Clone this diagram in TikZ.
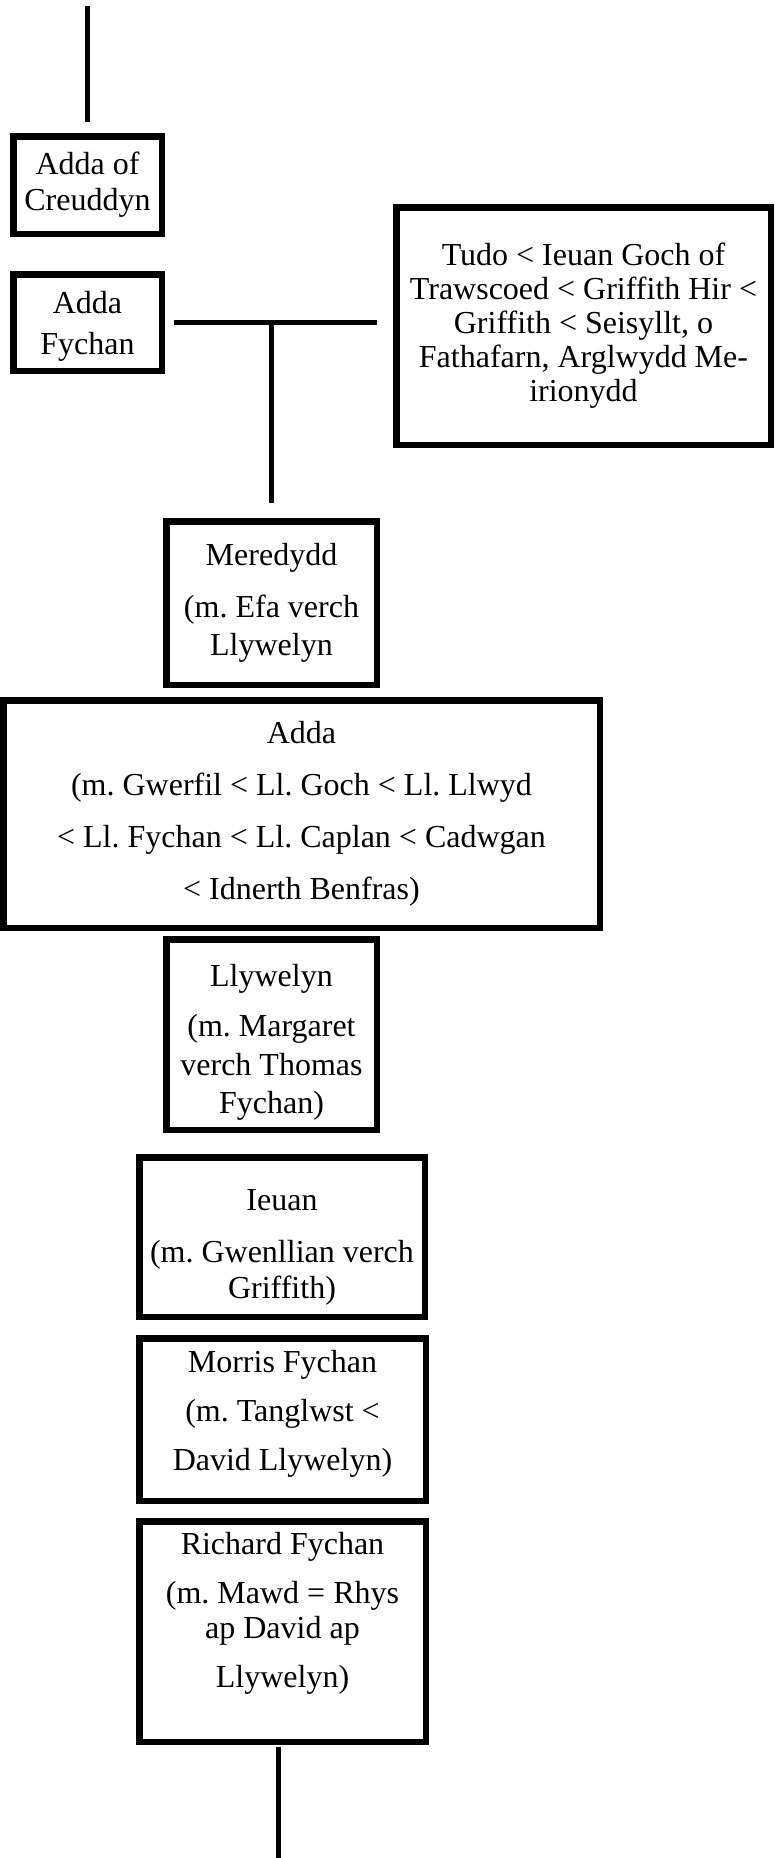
\documentclass[tikz,border=0pt]{standalone}
\usepackage{fontspec}
\setmainfont{Liberation Serif}
\usetikzlibrary{calc}
\newcommand{\lift}[1]{\rule{0pt}{#1}}
\newcommand{\drop}[1]{\rule[-#1]{0pt}{#1}}
\tikzset{
  person/.style={draw, line width=6.5pt, rectangle, align=center, inner sep=2pt,
    font=\fontsize{32}{37}\selectfont\frenchspacing},
  link/.style={draw, line width=5pt}
}
\begin{document}
\begin{tikzpicture}[x=1pt,y=-1pt]
\useasboundingbox (0,0) rectangle (775,1858);
\fill[white] (0,0) rectangle (775,1858);

\node[person, minimum width=148.5pt, minimum height=97.5pt] (creuddyn) at (87.5,185) {Adda of\\[-1pt]Creuddyn};
\node[person, minimum width=148.5pt, minimum height=96.5pt] (fychan) at (87.5,322.5) {\lift{30pt}Adda\\[3.5pt]Fychan};
\node[person, minimum width=374.5pt, minimum height=237.5pt, font=\fontsize{32}{34}\selectfont\frenchspacing] (tudo) at (583.5,326)
  {Tudo < Ieuan Goch of\\Trawscoed < Griffith Hir <\\Griffith < Seisyllt, o\\Fathafarn, Arglwydd Me-\\irionydd};
\node[person, minimum width=210.5pt, minimum height=163.5pt] (meredydd) at (271.5,603)
  {Meredydd\\[15pt](m. Efa verch\\[1pt]Llywelyn};
\node[person, minimum width=596.5pt, minimum height=227.5pt] (adda) at (301.5,814)
  {Adda\\[15pt](m. Gwerfil < Ll. Goch < Ll. Llwyd\\[15pt]< Ll. Fychan < Ll. Caplan < Cadwgan\\[15pt]< Idnerth Benfras)};
\node[person, minimum width=210.5pt, minimum height=190.5pt] (llywelyn) at (271.5,1034.5)
  {\lift{37pt}Llywelyn\\[13pt](m. Margaret\\[2pt]verch Thomas\\[1pt]Fychan)};
\node[person, minimum width=285.5pt, minimum height=159.5pt] (ieuan) at (282,1237)
  {\lift{41pt}Ieuan\\[15pt](m. Gwenllian verch\\[-1pt]Griffith)};
\node[person, minimum width=286.5pt, minimum height=162.5pt] (morris) at (282.5,1419.5)
  {Morris Fychan\\[12pt](m. Tanglwst <\\[12pt]David Llywelyn)\drop{18pt}};
\node[person, minimum width=286.5pt, minimum height=220.5pt] (richard) at (282.5,1631.5)
  {Richard Fychan\\[12pt](m. Mawd = Rhys\\[-1.5pt]ap David ap\\[12pt]Llywelyn)\drop{43.5pt}};

\coordinate (topend) at (87.5,6);
\coordinate (junction) at (fychan.east -| meredydd.north);
\coordinate (botend) at (278,1858);

\draw[link, shorten >=11pt] (topend) -- (creuddyn.north);
\draw[link, shorten <=9pt, shorten >=16pt] (fychan.east) -- (fychan.east -| tudo.west);
\draw[link, shorten >=15pt] (junction) -- (meredydd.north);
\draw[link, shorten <=2pt] (richard.south -| botend) -- (botend);
\end{tikzpicture}
\end{document}
